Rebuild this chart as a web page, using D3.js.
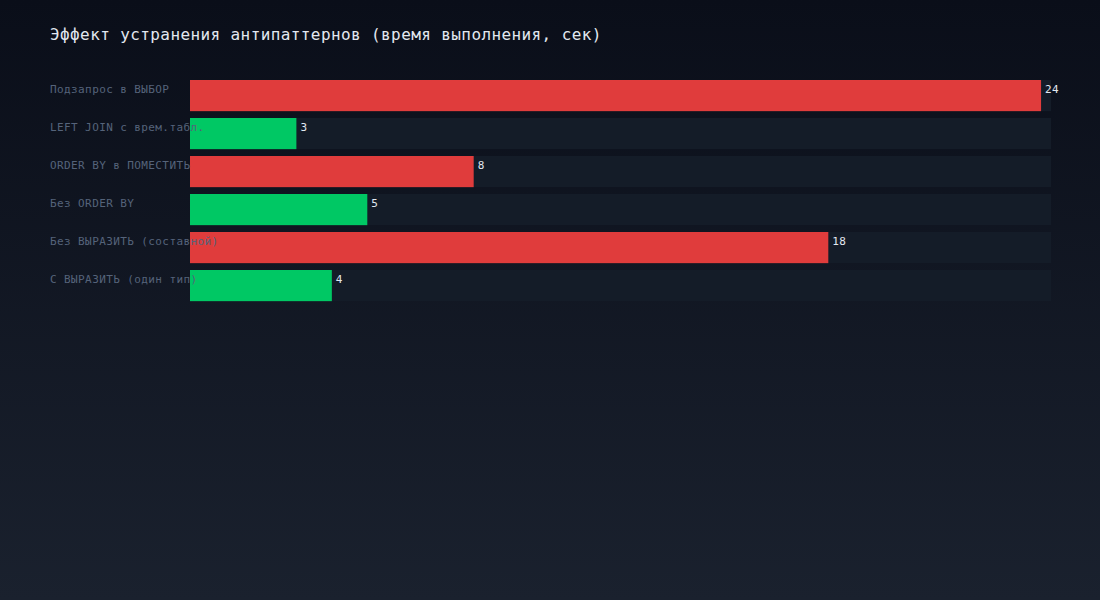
<!DOCTYPE html>
<html><head><meta charset="utf-8">
<script src="https://cdn.jsdelivr.net/npm/d3@7"></script>
<style>
html,body{margin:0;padding:0;background:#0b0f1a;}
svg{display:block;}
</style></head>
<body>
<svg id="chart" width="1100" height="600"></svg>
<script>
const categories = ["Подзапрос в ВЫБОР","LEFT JOIN с врем.табл.","ORDER BY в ПОМЕСТИТЬ","Без ORDER BY","Без ВЫРАЗИТЬ (составной)","С ВЫРАЗИТЬ (один тип)"];
const values = [24, 3, 8, 5, 18, 4];
const kinds = ["bad","good","bad","good","bad","good"];
const title = "Эффект устранения антипаттернов (время выполнения, сек)";

const W = 1100, H = 600;
const svg = d3.select("#chart");
const defs = svg.append("defs");
const g = defs.append("linearGradient").attr("id","bg").attr("x1",0).attr("y1",0).attr("x2",0).attr("y2",1);
g.append("stop").attr("offset","0%").attr("stop-color","#0a0e19");
g.append("stop").attr("offset","100%").attr("stop-color","#1a212e");
svg.append("rect").attr("width",W).attr("height",H).attr("fill","url(#bg)");

const font = "'DejaVu Sans Mono', monospace";
svg.append("text").attr("x",50).attr("y",40).text(title)
  .attr("font-family",font).attr("font-size",16).attr("letter-spacing",0.4).attr("fill","#e2e8f0");

const x = d3.scaleLinear().domain([0, 24.28]).range([190, 1051]);
const step = 38, pad = 0.18;
const y = d3.scaleBand().domain(categories).range([80, 80 + step*(categories.length - pad)]).paddingInner(pad).paddingOuter(0);
const bh = y.bandwidth();
const colors = {bad:"#e03c3c", good:"#00c864"};

const rows = svg.append("g").selectAll("g").data(categories).join("g");
rows.append("rect").attr("x",x(0)).attr("y",(d)=>y(d)).attr("width",x.range()[1]-x(0)).attr("height",bh).attr("fill","#141c28");
rows.append("rect").attr("x",x(0)).attr("y",(d)=>y(d)).attr("width",(d,i)=>x(values[i])-x(0)).attr("height",bh).attr("fill",(d,i)=>colors[kinds[i]]);
rows.append("text").attr("x",50).attr("y",(d)=>y(d)+12.5).text(d=>d)
  .attr("font-family",font).attr("font-size",11).attr("letter-spacing",0.4).attr("fill","#55637a");
rows.append("text").attr("x",(d,i)=>x(values[i])+4).attr("y",(d)=>y(d)+12.5).text((d,i)=>values[i])
  .attr("font-family",font).attr("font-size",11).attr("letter-spacing",0.4).attr("fill","#e2e8f0");
</script>
</body></html>
